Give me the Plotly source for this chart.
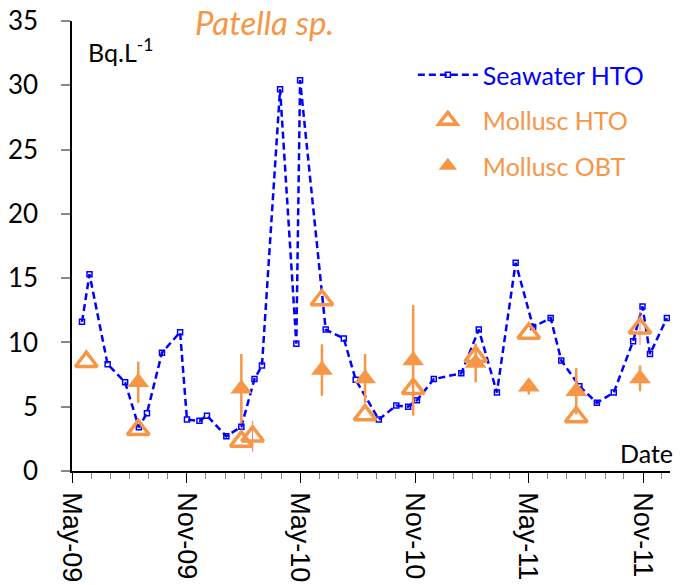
import plotly.graph_objects as go

# Seawater HTO
sea_dates = ["2009-05-17", "2009-05-29", "2009-06-27", "2009-07-25", "2009-08-16", "2009-08-29",
             "2009-09-22", "2009-10-21", "2009-11-01", "2009-11-21", "2009-12-03", "2010-01-03",
             "2010-01-27", "2010-02-17", "2010-03-01", "2010-03-30", "2010-04-25", "2010-05-01",
             "2010-06-11", "2010-07-10", "2010-07-29", "2010-09-04", "2010-10-02", "2010-10-21",
             "2010-11-04", "2010-12-01", "2011-01-14", "2011-02-11", "2011-03-12", "2011-04-11",
             "2011-05-09", "2011-06-06", "2011-06-23", "2011-07-22", "2011-08-19", "2011-09-15",
             "2011-10-16", "2011-10-31", "2011-11-12", "2011-12-09"]
sea_values = [11.6, 15.3, 8.3, 6.9, 3.4, 4.5,
              9.2, 10.8, 4.0, 3.9, 4.3, 2.7,
              3.45, 7.15, 8.2, 29.7, 9.9, 30.4,
              11.0, 10.3, 7.1, 4.0, 5.1, 5.0,
              5.5, 7.15, 7.6, 11.0, 6.1, 16.2,
              11.2, 11.9, 8.6, 6.6, 5.3, 6.1,
              10.1, 12.8, 9.1, 11.9]

# Mollusc HTO
hto_dates = ["2009-05-24", "2009-08-15", "2010-01-27", "2010-02-14", "2010-06-05", "2010-08-13",
             "2010-10-29", "2011-02-06", "2011-05-02", "2011-07-17", "2011-10-27"]
hto_values = [8.5, 3.2, 2.3, 2.7, 13.3, 4.35, 6.4, 8.9, 10.7, 4.2, 11.1]
hto_errors = [0, 0, 0, 1.2, 0, 0, 0, 0, 0, 0, 1.3]

# Mollusc OBT
obt_dates = ["2009-08-15", "2010-01-27", "2010-06-05", "2010-08-13", "2010-10-29",
             "2011-02-06", "2011-05-02", "2011-07-17", "2011-10-27"]
obt_values = [6.9, 6.4, 7.85, 7.2, 8.6, 8.4, 6.55, 6.2, 7.2]
obt_errors = [1.6, 2.7, 2.0, 1.9, 4.3, 1.5, 0.6, 1.8, 1.0]

y_ticks = [0, 5, 10, 15, 20, 25, 30, 35]

BLUE = "#0000FF"
ORANGE = "#F79646"
FONT = "Lato"

fig = go.Figure()

fig.add_trace(go.Scatter(
    x=sea_dates, y=sea_values, mode="lines+markers",
    name="<span style='color:#0000FF'>Seawater HTO</span>",
    line=dict(color=BLUE, width=2.5, dash="7px,4px"),
    marker=dict(symbol="square-open", size=5, color=BLUE, line=dict(width=1.5, color=BLUE)),
    legendgroup="a", legendrank=1,
))

fig.add_trace(go.Scatter(
    x=obt_dates, y=obt_values, mode="markers",
    name="<span style='color:#F79646'>Mollusc OBT</span>",
    marker=dict(symbol="triangle-up", size=19, color=ORANGE, line=dict(width=0)),
    error_y=dict(type="data", array=obt_errors, color=ORANGE, thickness=2.5, width=0),
    legendgroup="c", legendrank=3,
))

fig.add_trace(go.Scatter(
    x=hto_dates, y=hto_values, mode="markers",
    name="<span style='color:#F79646'>Mollusc HTO</span>",
    marker=dict(symbol="triangle-up-open", size=19, color=ORANGE, line=dict(width=3.5, color=ORANGE)),
    error_y=dict(type="data", array=hto_errors, color="#F4786A", thickness=1, width=0),
    legendgroup="b", legendrank=2,
))

fig.update_layout(
    width=681, height=585,
    margin=dict(l=72.3, r=11, t=20.5, b=114, autoexpand=False),
    paper_bgcolor="white", plot_bgcolor="white",
    font=dict(family=FONT, size=25, color="black"),
    showlegend=True,
    legend=dict(x=0.570, y=0.931, xanchor="left", yanchor="top",
                bgcolor="rgba(0,0,0,0)", font=dict(family=FONT, size=25),
                traceorder="grouped", tracegroupgap=10, itemwidth=60),
    xaxis=dict(
        type="date", range=["2009-05-01", "2011-12-14"], automargin=False,
        tick0="2009-05-01", dtick="M6", tickformat="%b-%y", tickangle=90,
        ticks="outside", ticklen=10, tickcolor="black", tickwidth=1,
        tickfont=dict(family="Liberation Sans", size=27, color="black"),
        showline=True, linecolor="black", linewidth=1.5,
        showgrid=False, zeroline=False,
        minor=dict(dtick="M1", tick0="2009-05-01", ticks="outside", ticklen=6,
                   tickcolor="#888888", tickwidth=1, showgrid=False),
        ticklabelstandoff=4,
    ),
    yaxis=dict(
        range=[0, 35], tickvals=y_ticks, automargin=False,
        ticks="outside", ticklen=9, tickcolor="#888888", tickwidth=1.5,
        tickfont=dict(family=FONT, size=26, color="black"),
        showline=True, linecolor="black", linewidth=1.5,
        showgrid=False, zeroline=False,
        ticklabelstandoff=18,
    ),
    annotations=[
        dict(text="<i>Patella sp.</i>", x=0.322, y=0.997, xref="paper", yref="paper",
             xanchor="center", yanchor="middle", showarrow=False,
             font=dict(family=FONT, size=33, color=ORANGE)),
        dict(text="Bq.L<sup>-1</sup>", x=0.024, y=0.934, xref="paper", yref="paper",
             xanchor="left", yanchor="middle", showarrow=False,
             font=dict(family=FONT, size=25, color="black")),
        dict(text="Date", x=1.008, y=0.04, xref="paper", yref="paper",
             xanchor="right", yanchor="middle", showarrow=False,
             font=dict(family=FONT, size=25, color="black")),
    ],
)

fig.write_html("out.html")
